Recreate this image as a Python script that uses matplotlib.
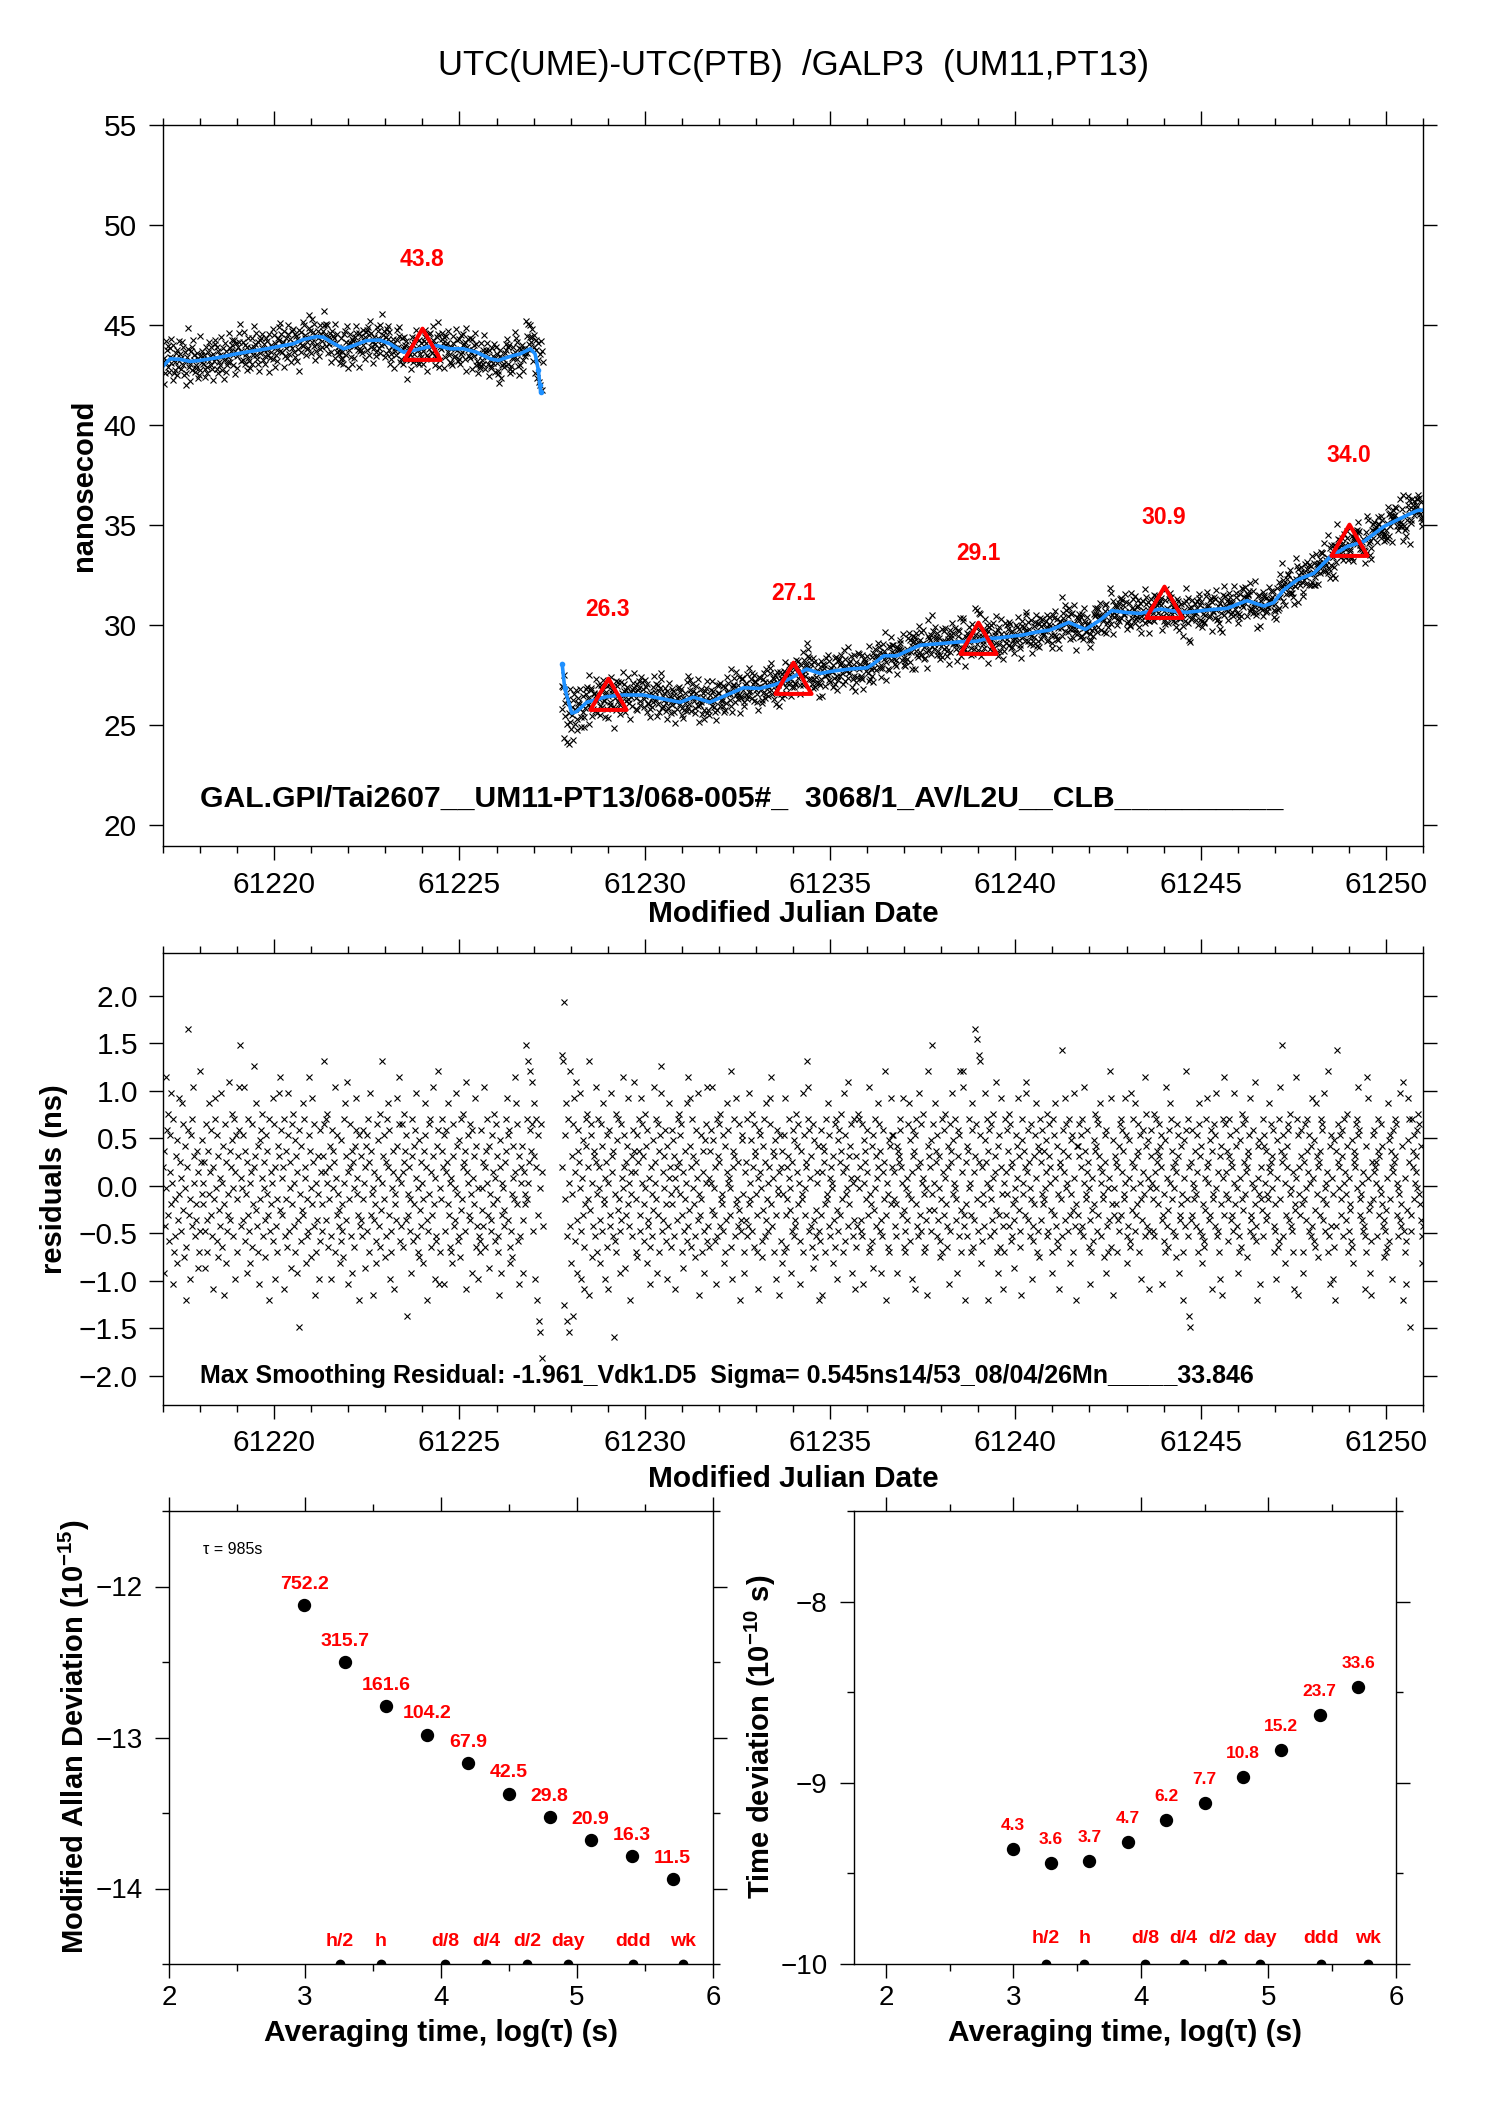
import numpy as np
import matplotlib
matplotlib.use("Agg")
import matplotlib.pyplot as plt
from matplotlib.path import Path
from matplotlib.ticker import MultipleLocator, FuncFormatter, FormatStrFormatter

plt.rcParams['font.family'] = ['Liberation Sans', 'DejaVu Sans']
plt.rcParams['mathtext.fontset'] = 'custom'
plt.rcParams['mathtext.rm'] = 'Liberation Sans'
plt.rcParams['mathtext.bf'] = 'Liberation Sans:bold'
plt.rcParams['axes.unicode_minus'] = True

# ---------------- data ----------------
TITLE = "UTC(UME)-UTC(PTB)  /GALP3  (UM11,PT13)"
INFO1 = "GAL.GPI/Tai2607__UM11-PT13/068-005#_  3068/1_AV/L2U__CLB__________"
INFO2 = "Max Smoothing Residual: -1.961_Vdk1.D5  Sigma= 0.545ns14/53_08/04/26Mn_____33.846"

SEG1_RANGE = (61217.0, 61227.25)
SEG2_RANGE = (61227.76, 61251.0)

# smoothing curve (blue)
SM1_T = [61217.0, 61217.19, 61217.46, 61217.73, 61218.0, 61218.45, 61218.90, 61219.35,
         61219.80, 61220.24, 61220.51, 61220.78, 61221.15, 61221.33, 61221.55, 61221.87,
         61222.14, 61222.49, 61222.85, 61223.12, 61223.49, 61223.76, 61224.12, 61224.39,
         61224.75, 61225.10, 61225.46, 61225.83, 61226.05, 61226.37, 61226.64, 61226.91,
         61227.04]
SM1_V = [42.93, 43.31, 43.28, 43.18, 43.23, 43.36, 43.53, 43.68,
         43.81, 43.97, 44.06, 44.27, 44.42, 44.39, 44.14, 43.81,
         43.97, 44.22, 44.25, 44.06, 43.64, 43.73, 43.89, 43.97,
         43.81, 43.81, 43.64, 43.31, 43.23, 43.43, 43.56, 43.81,
         43.56]
TAIL1_T = [61227.13, 61227.17, 61227.19]
TAIL1_V = [42.73, 41.99, 41.65]

HEAD2_T = [61227.77, 61227.84]
HEAD2_V = [28.07, 26.83]
SM2_T = [61228.03, 61228.16, 61228.44, 61228.98, 61229.42, 61229.96, 61230.50, 61230.96,
         61231.31, 61231.76, 61232.21, 61232.66, 61233.11, 61233.48, 61233.84, 61234.10,
         61234.37, 61234.73, 61235.09, 61235.55, 61236.00, 61236.18, 61236.45, 61236.80,
         61237.07, 61237.43, 61237.97, 61238.51, 61238.96, 61239.23, 61239.59, 61239.95,
         61240.20, 61240.58, 61240.94, 61241.44, 61241.89, 61242.29, 61242.60, 61243.01,
         61243.37, 61243.91, 61244.36, 61244.63, 61245.17, 61245.71, 61246.25, 61246.70,
         61246.97, 61247.24, 61247.60, 61248.05, 61248.50, 61248.95, 61249.40, 61249.94,
         61250.39, 61250.84, 61251.0]
SM2_V = [25.59, 25.67, 26.14, 26.42, 26.50, 26.50, 26.30, 26.14,
         26.39, 26.14, 26.50, 26.86, 26.83, 27.00, 27.25, 27.50,
         27.80, 27.58, 27.70, 27.80, 27.86, 28.07, 28.46, 28.46,
         28.69, 28.99, 29.07, 29.16, 29.19, 29.32, 29.36, 29.45,
         29.50, 29.65, 29.75, 30.13, 29.78, 30.25, 30.72, 30.62,
         30.58, 30.80, 30.67, 30.63, 30.75, 30.83, 31.22, 30.95,
         31.12, 31.75, 32.25, 32.58, 33.42, 33.92, 34.17, 34.92,
         35.33, 35.72, 35.75]

# residuals about the smoothing, one character per sample (ascii code -> ns)
RES1 = """
Q=TFbMX[HCPWJ_NZ;AKDS?VGL^ROE]YI@MUB8QXkHK<WFZ`NSDGJT>PAEcRL
VJNR>EYAGT]LPHXD:QKZ^MWCS@IOF_BNU9JYR?EHLaTGQ[VDMZ<PWAKS`XhFO
MGW`TCLR=HZEN?PBYJdQS]IFUA;KVXO[DMRG@WLTHZ8EPJN^CYQ<FAKU_SIbX
HOQZ:DTKB_WEMR>YJ[FNVAS=PGX3LCUI]HZOQ?KDEbWT@MJ^RFY9NAGSL<XCP
EJSeYPZGN[BQKUD<XMTRA`OWHLFI?CVJE@NZ]SGa;PKYQDT=RMBUX^LOHW8FG
SDKXN>QUEWZAR_HTLM9PGJC?YOVF[BIeNSKW@DRZQ]HX<EAMPT:LJGU^OYbCF
NYBPR[TGW5LHQKE=ZSCUJXO_DMAV@IFRN?KT]WQG8ELYZBPH`SJO<DCUXc;MA
KTZQW;EPXRJ]HNBOA?YSFGM_LUCVD@ZIKQ[RTEa:PWNHGYL=XOSJ^BUFM<DAC
XIMRF`QBTZNHU>LEGWPJ[OCYKSAD9QV=HNMIFRZT^WGX?BEL@UOKPb]JYCS;DN
QUG=PJLhKZeNRXcTYaE]S<ZQ8HW4M2Y-PF
"""
RES2 = """
fQe7pKW]4DZ2NFc?SL5Y^CPaG=TXRM_E<OHV:BJZU[QKe9IYWN@FSTDR`AL
ZMQ?GYUE]KJ<ORWBN:XHF_SPDT1LCA[VZIK=EYGOMbWQ>HRUJ^FN8PLSDXTa
PAKW@RTZHE^NYSCJ[MUX?FGOB;QDLIV`NRKZ=HYTAWd_EPGSMXJC<UFO]QLB
JXVDS:OMGQZR[LWYHAP>ETKN]CFbIU^QBZMSJ@DXRO_G9LHWKAPT=EVNYC`F
BOTNX`IVMHCQ;DZSRY[FKJLEW?AUGP]XNOHMBc<QTZSDJ^KFRIY8EGWVL=AP
RGDZF_JNKVE[QYBSTLAHO:XWPMC@UIZRDG]KNEQ^YJbFTOSAV<HXLM9PWCQ?
TLWA^HBKQSZOMI=ERXDVGF[UPYJN;CTKL_AWMHQRe`ZEXOSFB>YVG@DIPNU8
ECHX9PUTRJAZLK]WFODQNMS?GBYZ<IVEXHR[TKPA_CWQLMFaJSUYO=DNGZ:B
SFO[MZQGEDY;VNTRKXPH`ABLJUC>WIZMSFO]QYTE=GDPXRKc8HNLBVAU^JWQ
WKPFDJU=TSRXZQHN^IBAEMGOYL]CVK<PSXTW:ZJFQD_HRYEN[OALBGM9UcIS
QVEhLYIN]TRDWGSM@CKZAPHX[OJFBUQ;EYRT_VLNZMGK=SXWDcAIPc`HF8RJ
DUTMZNHA]XBGPkSYiKEfReW?QCJLFV_RNZ8TXDMYKG[OESPaIAU=WHBQ^LF:
NAZHPLXT[FYQCRDJG>MKWOU^SIEB9VZNLTHQa_PXGRDMYK<FCJSWO]AUE@TZ
GRXLJKTMVP[DEYSNQI=AZWHO]FUCBL:QRKgDTXPG^MYNESZ?HLVWAI_OFJ8U
UHSYEWQFZDN`TLKXPRBMG;AOICJV[TUEZYHSQ]DNPKL@RWX=FMAGOc^BJ9VH
MSRJQAGEUYZHPXTKL^NW?DFVOBC_IRMZQE]HSJYTANW<KGXPLDb[UFOV:EMS
XNEK[DPZMRTJYSUQWG;HLCAV`OFBIX]NZKTQEMRD@PYSW=GHJULA8OVFcXKD
Z5Q3GRXHNMKTLFPWAY]SEUD?JBCOIZ^QRNGVHXT:KLYWFM_DEPA<SUJ9ZObH
YPLTCKSZWGRQHE_NJUXFM=ADVOB[KIYRLZP@QTSWE^HGNXDMaJCF8UOLV;KQ
IDZWUNTGLHK]QPRYSMXAFEJ<OVBCZ`KThRWDSN?HQUYXGL[MFEPA:JIObZW9
LQHSXJA=RKYGMZTPEWNDU^FOCVIB]LSQ@RHTZYXGK_MEJNPcAD;UFWO<LBV8
FTgYRQMWHKSXDNZPGLU[AEOIJCVB?TRSQYZMW`XHKLNGPEF:DUAbO^IJ=C9R
KWPXQNRDTZSHMLYUJFG@EAIOB]CVKWTQ<XPRZSYNHDML_GJFUa8EOAC;IV^Z
R3HEZQTKWNSPMX[YLJGUD?F
"""
RES_ZERO = 77.5     # ascii code of a zero residual
RES_STEP = 0.056    # ns per ascii code step

# normal points (red triangles)
TRI_MJD = [61224, 61229, 61234, 61239, 61244, 61249]
TRI_VAL = [43.8, 26.3, 27.1, 29.1, 30.9, 34.0]

# stability analysis
LOG_TAU = [2.993, 3.295, 3.596, 3.897, 4.198, 4.499, 4.800, 5.101, 5.402, 5.703]
MADEV_E15 = [752.2, 315.7, 161.6, 104.2, 67.9, 42.5, 29.8, 20.9, 16.3, 11.5]
TDEV_E10 = [4.3, 3.6, 3.7, 4.7, 6.2, 7.7, 10.8, 15.2, 23.7, 33.6]
MARK_LABELS = ["h/2", "h", "d/8", "d/4", "d/2", "day", "ddd", "wk"]
MARK_LOGTAU = [3.255, 3.556, 4.033, 4.334, 4.635, 4.936, 5.414, 5.782]
TAU0_TEXT = "\u03c4 = 985s"

BLUE = "#1E90FF"
RED = "#FF0000"


def decode(s):
    s = "".join(s.split())
    codes = np.frombuffer(s.encode("ascii"), dtype=np.uint8).astype(float)
    return (codes - RES_ZERO) * RES_STEP


res1 = decode(RES1)
res2 = decode(RES2)
t1 = np.linspace(SEG1_RANGE[0], SEG1_RANGE[1], len(res1))
t2 = np.linspace(SEG2_RANGE[0], SEG2_RANGE[1], len(res2))
y1 = np.interp(t1, SM1_T, SM1_V) + res1
y2 = np.interp(t2, SM2_T, SM2_V) + res2

# ---------------- figure ----------------
W, H = 1488, 2105
fig = plt.figure(figsize=(W / 100, H / 100), dpi=100)


def ax_px(l, t, r, b):
    return fig.add_axes([l / W, 1 - b / H, (r - l) / W, (b - t) / H])


def style(ax, fs, xpad, ypad):
    for s in ax.spines.values():
        s.set_linewidth(1.0)
    ax.tick_params(which='both', direction='out', top=True, right=True, width=1.0,
                   labelsize=fs)
    ax.tick_params(axis='x', which='both', pad=xpad)
    ax.tick_params(axis='y', which='both', pad=ypad)
    ax.tick_params(which='major', length=10)
    ax.tick_params(which='minor', length=5)


def minus_fmt(fmt):
    def f(v, p):
        if abs(v) < 1e-9:
            v = 0.0
        return (fmt % v).replace('-', '\u2212')
    return FuncFormatter(f)


ax1 = ax_px(163, 125, 1423, 846)
ax2 = ax_px(163, 953, 1423, 1405)
ax3 = ax_px(169, 1511, 713, 1964)
ax4 = ax_px(854, 1511, 1396, 1964)

MS_X, MEW_X = 4.0, 0.8

# ----- top panel -----
ax1.plot(t1, y1, ls='none', marker='x', ms=MS_X, mew=MEW_X, color='k')
ax1.plot(t2, y2, ls='none', marker='x', ms=MS_X, mew=MEW_X, color='k')
ax1.plot(SM1_T + TAIL1_T, SM1_V + TAIL1_V, color=BLUE, lw=2.6, solid_capstyle='round')
ax1.plot(TAIL1_T, TAIL1_V, ls='none', marker='o', ms=3, color=BLUE)
ax1.plot(HEAD2_T + SM2_T, HEAD2_V + SM2_V, color=BLUE, lw=2.6, solid_capstyle='round')
ax1.plot(HEAD2_T, HEAD2_V, ls='none', marker='o', ms=3, color=BLUE)
tri = Path([(0, 1), (-0.866, -0.5), (0.866, -0.5), (0, 1)],
           [Path.MOVETO, Path.LINETO, Path.LINETO, Path.CLOSEPOLY])
ax1.plot(TRI_MJD, TRI_VAL, ls='none', marker=tri, ms=30, mfc='none', mec=RED, mew=2.9)
for m, v in zip(TRI_MJD, TRI_VAL):
    ax1.text(m, v + 4.5, f"{v:.1f}", color=RED, fontsize=16.5, fontweight='bold',
             ha='center', va='center')
ax1.text(61218.0, 21.3, INFO1, fontsize=21.7, fontweight='bold', ha='left', va='center')
ax1.set_xlim(61217, 61251)
ax1.set_ylim(18.95, 55.0)
ax1.xaxis.set_major_locator(MultipleLocator(5))
ax1.xaxis.set_minor_locator(MultipleLocator(1))
ax1.yaxis.set_major_locator(MultipleLocator(5))
ax1.xaxis.set_major_formatter(FormatStrFormatter('%d'))
ax1.yaxis.set_major_formatter(FormatStrFormatter('%d'))
style(ax1, 21.5, 8, 9)

# ----- residual panel -----
ax2.plot(t1, res1, ls='none', marker='x', ms=MS_X, mew=MEW_X, color='k')
ax2.plot(t2, res2, ls='none', marker='x', ms=MS_X, mew=MEW_X, color='k')
ax2.text(61218.0, -2.0, INFO2, fontsize=18, fontweight='bold', ha='left', va='center')
ax2.set_xlim(61217, 61251)
ax2.set_ylim(-2.31, 2.45)
ax2.xaxis.set_major_locator(MultipleLocator(5))
ax2.xaxis.set_minor_locator(MultipleLocator(1))
ax2.yaxis.set_major_locator(MultipleLocator(0.5))
ax2.xaxis.set_major_formatter(FormatStrFormatter('%d'))
ax2.yaxis.set_major_formatter(minus_fmt('%.1f'))
style(ax2, 21.5, 7, 8)

# ----- modified Allan deviation -----
madev_log = np.log10(np.array(MADEV_E15) * 1e-15)
ax3.plot(LOG_TAU, madev_log, ls='none', marker='o', ms=8.6, color='k')
for x, y, v in zip(LOG_TAU, madev_log, MADEV_E15):
    ax3.annotate(f"{v:.1f}", (x, y), xytext=(0, 15), textcoords='offset points',
                 ha='center', va='center', color=RED, fontsize=14, fontweight='bold')
ax3.plot(MARK_LOGTAU, np.zeros(len(MARK_LOGTAU)), ls='none', marker='o', ms=6, color='k',
         transform=ax3.get_xaxis_transform(), clip_on=True)
for x, lab in zip(MARK_LOGTAU, MARK_LABELS):
    ax3.text(x, 0.049, lab, transform=ax3.get_xaxis_transform(), ha='center', va='center',
             color=RED, fontsize=14, fontweight='bold')
ax3.text(0.0625, 0.916, TAU0_TEXT, transform=ax3.transAxes, ha='left', va='center',
         fontsize=11.5)
ax3.set_xlim(2, 6)
ax3.set_ylim(-14.5, -11.5)
ax3.xaxis.set_major_locator(MultipleLocator(1))
ax3.xaxis.set_minor_locator(MultipleLocator(0.5))
ax3.yaxis.set_major_locator(MultipleLocator(1))
ax3.yaxis.set_minor_locator(MultipleLocator(0.5))
ax3.xaxis.set_major_formatter(minus_fmt('%d'))
ax3.yaxis.set_major_formatter(minus_fmt('%d'))
style(ax3, 20, 5, 9)

# ----- time deviation -----
tdev_log = np.log10(np.array(TDEV_E10) * 1e-10)
ax4.plot(LOG_TAU, tdev_log, ls='none', marker='o', ms=8.6, color='k')
for x, y, v in zip(LOG_TAU, tdev_log, TDEV_E10):
    ax4.annotate(f"{v:.1f}", (x, y), xytext=(0, 17), textcoords='offset points',
                 ha='center', va='center', color=RED, fontsize=12.5, fontweight='bold')
ax4.plot(MARK_LOGTAU, np.zeros(len(MARK_LOGTAU)), ls='none', marker='o', ms=6, color='k',
         transform=ax4.get_xaxis_transform(), clip_on=True)
for x, lab in zip(MARK_LOGTAU, MARK_LABELS):
    ax4.text(x, 0.056, lab, transform=ax4.get_xaxis_transform(), ha='center', va='center',
             color=RED, fontsize=14, fontweight='bold')
ax4.set_xlim(1.75, 6)
ax4.set_ylim(-10, -7.5)
ax4.xaxis.set_major_locator(MultipleLocator(1))
ax4.xaxis.set_minor_locator(MultipleLocator(0.5))
ax4.yaxis.set_major_locator(MultipleLocator(1))
ax4.yaxis.set_minor_locator(MultipleLocator(0.5))
ax4.xaxis.set_major_formatter(minus_fmt('%d'))
ax4.yaxis.set_major_formatter(minus_fmt('%d'))
style(ax4, 20, 5, 9)

# ----- figure texts -----
def ftext(x, y, s, **kw):
    fig.text(x / W, 1 - y / H, s, ha='center', va='center', **kw)


ftext(793, 66, TITLE, fontsize=25)
ftext(84, 485, "nanosecond", fontsize=21, fontweight='bold', rotation=90)
ftext(793, 914, "Modified Julian Date", fontsize=21.5, fontweight='bold')
ftext(54, 1179, "residuals (ns)", fontsize=21, fontweight='bold', rotation=90)
ftext(793, 1479, "Modified Julian Date", fontsize=21.5, fontweight='bold')
ftext(74, 1737, r"Modified Allan Deviation (10$^{\mathbf{-15}}$)", fontsize=21,
      fontweight='bold', rotation=90)
ftext(760, 1737, r"Time deviation (10$^{\mathbf{-10}}$ s)", fontsize=21,
      fontweight='bold', rotation=90)
ftext(441, 2033, "Averaging time, log(\u03c4) (s)", fontsize=21.5, fontweight='bold')
ftext(1125, 2033, "Averaging time, log(\u03c4) (s)", fontsize=21.5, fontweight='bold')

fig.savefig("out.png", dpi=100)
